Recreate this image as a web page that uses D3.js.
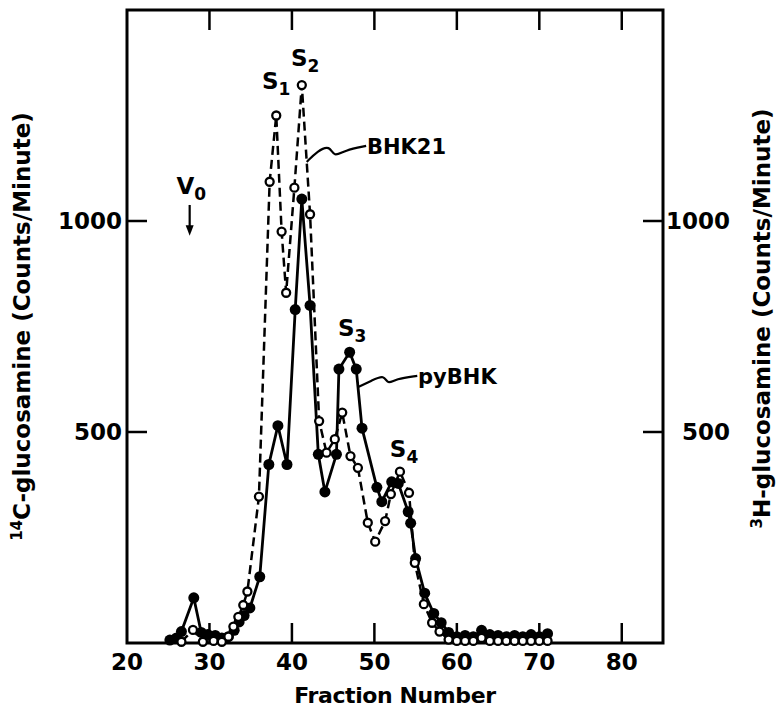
<!DOCTYPE html>
<html>
<head>
<meta charset="utf-8">
<script src="https://cdn.jsdelivr.net/npm/d3@7"></script>
<style>
  body { margin: 0; background: #fff; }
  svg text { font-family: "DejaVu Sans", sans-serif; font-weight: bold; fill: #000; }
</style>
</head>
<body>
<div id="chart"></div>
<script>
// pyBHK (14C, filled circles, solid line)
const pyFraction = [25.2, 26.0, 26.6, 28.1, 29.0, 29.8, 30.7, 31.5, 32.3, 33.0, 33.6, 34.2, 34.9, 36.1, 37.2, 38.3, 39.4, 40.4, 41.2, 42.2, 43.2, 44.0, 45.4, 45.7, 47.0, 47.8, 48.5, 50.3, 50.9, 52.1, 52.9, 54.1, 54.4, 55.0, 56.1, 57.2, 58.1, 59.0, 60.0, 61.0, 62.0, 63.0, 64.0, 65.0, 66.0, 67.0, 68.0, 69.0, 70.0, 71.0];
const pyCpm = [7, 12, 27, 107, 25, 20, 18, 12, 15, 30, 50, 65, 83, 157, 423, 515, 423, 790, 1052, 800, 447, 358, 447, 649, 689, 649, 509, 369, 335, 382, 378, 311, 284, 200, 118, 70, 48, 25, 15, 18, 15, 30, 20, 18, 15, 18, 15, 20, 15, 22];

// BHK21 (3H, open circles, dashed line)
const bhkFraction = [26.6, 28.0, 29.2, 30.5, 31.5, 32.3, 32.9, 33.5, 34.1, 34.6, 36.0, 37.3, 38.1, 38.75, 39.3, 40.3, 41.2, 42.2, 43.3, 44.2, 45.2, 46.1, 47.1, 48.0, 49.2, 50.1, 51.3, 52.0, 53.1, 54.2, 54.9, 56.0, 57.0, 57.9, 59.0, 60.0, 61.0, 62.0, 63.0, 64.0, 65.0, 66.0, 67.0, 68.0, 69.0, 70.0, 71.0];
const bhkCpm = [3, 31, 3, 5, 3, 15, 39, 62, 90, 122, 347, 1093, 1250, 975, 830, 1079, 1322, 1016, 526, 451, 483, 546, 443, 415, 285, 240, 289, 353, 406, 356, 190, 92, 48, 27, 8, 5, 5, 5, 12, 5, 5, 5, 5, 5, 5, 5, 5];

const xTicks = [20, 30, 40, 50, 60, 70, 80];
const yTicks = [500, 1000];

// peak labels: [fraction, cpm, letter, subscript]
const peakLabels = [
    [38.1, 1313, "S", "1"],
    [41.6, 1368, "S", "2"],
    [47.3, 728, "S", "3"],
    [53.6, 440, "S", "4"]
];
// leader lines in data units
const bhkLeader = [[41.8, 1140], [43.1, 1166], [44.6, 1180], [45.1, 1150], [46.4, 1168], [49.0, 1178]];
const pyLeader = [[48.1, 607], [49.7, 622], [51.2, 636], [51.6, 612], [52.6, 626], [55.2, 633]];

const W = 776, H = 708;
const margin = { top: 10, right: 113, bottom: 65, left: 127 };

const svg = d3.select("#chart").append("svg")
    .attr("width", W)
    .attr("height", H);

const x = d3.scaleLinear().domain([20, 85]).range([margin.left, W - margin.right]);
const y = d3.scaleLinear().domain([0, 1500]).range([H - margin.bottom, margin.top]);

// frame
svg.append("rect")
    .attr("x", x(20)).attr("y", y(1500))
    .attr("width", x(85) - x(20)).attr("height", y(0) - y(1500))
    .attr("fill", "none").attr("stroke", "#000").attr("stroke-width", 3);

// inward ticks
const tickLen = 20;
svg.append("g").selectAll("line")
    .data(xTicks.slice(1))
    .join("line")
    .attr("x1", d => x(d)).attr("x2", d => x(d))
    .attr("y1", y(0)).attr("y2", y(0) - tickLen)
    .attr("stroke", "#000").attr("stroke-width", 2.5);
svg.append("g").selectAll("line")
    .data(xTicks.slice(1))
    .join("line")
    .attr("x1", d => x(d)).attr("x2", d => x(d))
    .attr("y1", y(1500)).attr("y2", y(1500) + tickLen)
    .attr("stroke", "#000").attr("stroke-width", 2.5);
svg.append("g").selectAll("line")
    .data(yTicks)
    .join("line")
    .attr("x1", x(20)).attr("x2", x(20) + tickLen)
    .attr("y1", d => y(d)).attr("y2", d => y(d))
    .attr("stroke", "#000").attr("stroke-width", 2.5);
svg.append("g").selectAll("line")
    .data(yTicks)
    .join("line")
    .attr("x1", x(85)).attr("x2", x(85) - tickLen)
    .attr("y1", d => y(d)).attr("y2", d => y(d))
    .attr("stroke", "#000").attr("stroke-width", 2.5);

// tick labels
svg.append("g").selectAll("text")
    .data(xTicks)
    .join("text")
    .attr("x", d => x(d)).attr("y", y(0) + 27)
    .attr("text-anchor", "middle")
    .attr("font-size", 23)
    .text(d => d);
svg.append("g").selectAll("text")
    .data(yTicks)
    .join("text")
    .attr("x", x(20) - 5).attr("y", d => y(d) + 8)
    .attr("text-anchor", "end")
    .attr("font-size", 23)
    .text(d => d);
svg.append("g").selectAll("text")
    .data(yTicks)
    .join("text")
    .attr("x", x(85) + 67).attr("y", d => y(d) + 8)
    .attr("text-anchor", "end")
    .attr("font-size", 23)
    .text(d => d);

// axis titles
svg.append("text")
    .attr("x", (x(20) + x(85)) / 2).attr("y", H - 5)
    .attr("text-anchor", "middle")
    .attr("font-size", 22)
    .attr("letter-spacing", -0.4)
    .text("Fraction Number");

const leftTitle = svg.append("text")
    .attr("transform", `translate(30,${(y(0) + y(1500)) / 2}) rotate(-90)`)
    .attr("text-anchor", "middle")
    .attr("font-size", 23);
leftTitle.append("tspan").attr("font-size", 15).attr("dy", -8).text("14");
leftTitle.append("tspan").attr("dy", 8).text("C-glucosamine (Counts/Minute)");

const rightTitle = svg.append("text")
    .attr("transform", `translate(770,${(y(0) + y(1500)) / 2 - 8}) rotate(-90)`)
    .attr("text-anchor", "middle")
    .attr("font-size", 23);
rightTitle.append("tspan").attr("font-size", 15).attr("dy", -8).text("3");
rightTitle.append("tspan").attr("dy", 8).text("H-glucosamine (Counts/Minute)");

// data lines
const py = pyFraction.map((f, i) => [f, pyCpm[i]]);
const bhk = bhkFraction.map((f, i) => [f, bhkCpm[i]]);
const line = d3.line().x(d => x(d[0])).y(d => y(d[1]));

svg.append("path")
    .datum(py)
    .attr("d", line)
    .attr("fill", "none").attr("stroke", "#000").attr("stroke-width", 2.8);
svg.append("path")
    .datum(bhk)
    .attr("d", line)
    .attr("fill", "none").attr("stroke", "#000").attr("stroke-width", 2.5)
    .attr("stroke-dasharray", "9,5");

svg.append("g").selectAll("circle")
    .data(py)
    .join("circle")
    .attr("cx", d => x(d[0])).attr("cy", d => y(d[1]))
    .attr("r", 5.5).attr("fill", "#000");
svg.append("g").selectAll("circle")
    .data(bhk)
    .join("circle")
    .attr("cx", d => x(d[0])).attr("cy", d => y(d[1]))
    .attr("r", 4).attr("fill", "#fff")
    .attr("stroke", "#000").attr("stroke-width", 2.3);

// leaders and series labels
const leader = d3.line().x(d => x(d[0])).y(d => y(d[1])).curve(d3.curveBasis);
svg.append("path").datum(bhkLeader).attr("d", leader)
    .attr("fill", "none").attr("stroke", "#000").attr("stroke-width", 2.2);
svg.append("path").datum(pyLeader).attr("d", leader)
    .attr("fill", "none").attr("stroke", "#000").attr("stroke-width", 2.2);

svg.append("text")
    .attr("x", x(49.1)).attr("y", y(1178) + 8)
    .attr("font-size", 21)
    .text("BHK21");
svg.append("text")
    .attr("x", x(55.3)).attr("y", y(633) + 8)
    .attr("font-size", 21)
    .text("pyBHK");

// S peak labels
peakLabels.forEach(p => {
    const t = svg.append("text")
        .attr("x", x(p[0])).attr("y", y(p[1]))
        .attr("text-anchor", "middle")
        .attr("font-size", 23);
    t.append("tspan").text(p[2]);
    t.append("tspan").attr("font-size", 17).attr("dy", 6).text(p[3]);
});

// V0 marker
const v0 = svg.append("text")
    .attr("x", x(27.8)).attr("y", y(1064))
    .attr("text-anchor", "middle")
    .attr("font-size", 23);
v0.append("tspan").text("V");
v0.append("tspan").attr("font-size", 17).attr("dy", 6).text("0");

svg.append("line")
    .attr("x1", x(27.6)).attr("x2", x(27.6))
    .attr("y1", y(1038)).attr("y2", y(980))
    .attr("stroke", "#000").attr("stroke-width", 2.2);
svg.append("path")
    .attr("d", d3.line()([[x(27.6) - 4, y(990)], [x(27.6) + 4, y(990)], [x(27.6), y(965)]]) + "Z")
    .attr("fill", "#000");
</script>
</body>
</html>
